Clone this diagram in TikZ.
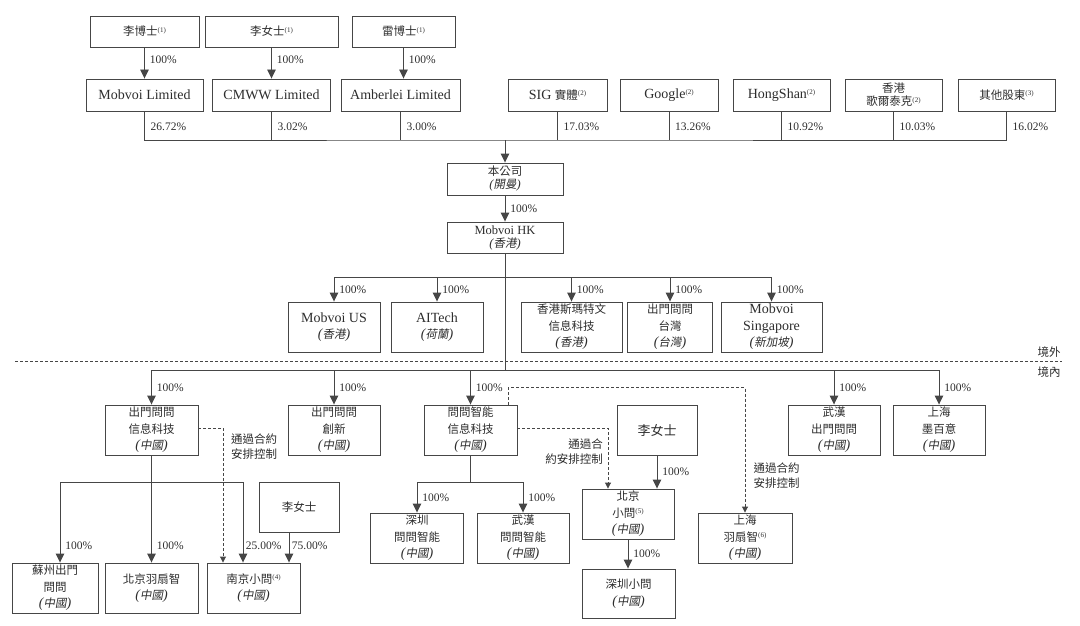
\documentclass[tikz,border=0pt]{standalone}
\usepackage{fontspec}
\setmainfont{Liberation Serif}
\newfontfamily\cjk{Noto Sans CJK TC}
\newfontfamily\cjkit[FakeSlant=0.18]{Noto Sans CJK TC}
\usetikzlibrary{arrows.meta, calc, positioning}
\definecolor{inkgray}{RGB}{45,45,45}
\definecolor{linegray}{RGB}{70,70,70}
\newcommand{\zh}[1]{{\cjk\fontsize{11.5}{16.5}\selectfont #1}}
\newcommand{\inloc}[1]{{\itshape(}{\cjkit\fontsize{11.5}{16.5}\selectfont #1}{\itshape)}}
\newcommand{\fnote}[1]{\raisebox{0.55ex}{\fontsize{7}{7}\selectfont(#1)}}

\begin{document}
\begin{tikzpicture}[x=1pt, y=-1pt,
    box/.style 2 args={draw=linegray, line width=0.9pt, text=inkgray, align=center, inner sep=1pt,
        minimum width=#1pt, minimum height=#2pt, font=\fontsize{14}{16.5}\selectfont},
    tight/.style={font=\fontsize{12.5}{13}\selectfont},
    pct/.style={text=inkgray, font=\fontsize{11.5}{13}\selectfont, inner sep=2pt},
    ctrlnote/.style={text=inkgray, align=left, inner sep=1pt, font=\fontsize{11.5}{15}\selectfont},
    wire/.style={draw=linegray, line width=0.9pt},
    arr/.style={wire, -{Triangle[width=8.5pt,length=9pt]}},
    ctrl/.style={wire, dash pattern=on 3pt off 2pt, -{Triangle[width=6pt,length=6pt]}}]
    \useasboundingbox (0,0) rectangle (1080,626);

    % shareholders
    \node[box={109}{31}] (drli) at (144.5,31.5) {\zh{李博士}\fnote{1}};
    \node[box={133}{31}] (msli) at (271.5,31.5) {\zh{李女士}\fnote{1}};
    \node[box={103}{31}] (drlei) at (403.5,31.5) {\zh{雷博士}\fnote{1}};

    \node[box={117}{32}] (mobltd) at (144.5,95) {Mobvoi Limited};
    \node[box={118}{32}] (cmww) at (271.5,95) {CMWW Limited};
    \node[box={119}{32}] (amber) at (400.5,95) {Amberlei Limited};
    \node[box={99}{32}] (sig) at (557.5,95) {SIG \zh{實體}\fnote{2}};
    \node[box={98}{32}] (google) at (669,95) {Google\fnote{2}};
    \node[box={97}{32}] (hongshan) at (781.5,95) {HongShan\fnote{2}};
    \node[box={97}{32}, tight] (goertek) at (893.5,95) {\zh{香港}\\\zh{歌爾泰克}\fnote{2}};
    \node[box={97}{32}] (others) at (1006.5,95) {\zh{其他股東}\fnote{3}};

    \foreach \a/\b in {drli/mobltd, msli/cmww, drlei/amber}
        \draw[arr] (\a.south) -- (\a.south |- \b.north) node[pct, pos=0.4, right, xshift=3pt] (q-\a) {100\%};

    % shareholding bus
    \coordinate (topbus) at (505,140);
    \draw[wire] (mobltd.south) |- (topbus) -| (others.south);
    \foreach \n in {cmww, amber, sig, google, hongshan, goertek}
        \draw[wire] (\n.south) -- (\n.south |- topbus);
    \foreach \n/\v in {mobltd/26.72, cmww/3.02, amber/3.00, sig/17.03, google/13.26, hongshan/10.92, goertek/10.03, others/16.02}
        \node[pct, anchor=west, xshift=4pt] (p-\n) at ($(\n.south)!0.55!(\n.south |- topbus)$) {\v\%};

    % company and HK
    \node[box={116}{32}, tight] (company) at (505,179) {\zh{本公司}\\\inloc{開曼}};
    \node[box={116}{31}, tight] (mobhk) at (505,237.5) {Mobvoi HK\\\inloc{香港}};
    \draw[arr] (topbus) -- (company.north);
    \draw[arr] (company.south) -- (mobhk.north) node[pct, midway, right, xshift=3pt] (p-hk) {100\%};

    % offshore subsidiaries
    \node[box={92}{50}] (mobus) at (334,327) {Mobvoi US\\\inloc{香港}};
    \node[box={92}{50}] (aitech) at (437,327) {AITech\\\inloc{荷蘭}};
    \node[box={101}{50}] (smart) at (571.5,327) {\zh{香港斯瑪特文}\\\zh{信息科技}\\\inloc{香港}};
    \node[box={85}{50}] (taiwan) at (670,327) {\zh{出門問問}\\\zh{台灣}\\\inloc{台灣}};
    \node[box={101}{50}] (mobsg) at (771.5,327) {Mobvoi\\Singapore\\\inloc{新加坡}};

    \coordinate (hkbus) at (505,277);
    \draw[wire] (mobus.north |- hkbus) -- (mobsg.north |- hkbus);
    \foreach \n in {mobus, aitech, smart, taiwan, mobsg}
        \draw[arr] (\n.north |- hkbus) -- (\n.north) node[pct, midway, right, xshift=3pt] (p-\n) {100\%};

    \coordinate (cnbus) at (505,370);
    \draw[wire] (mobhk.south) -- (cnbus);

    % border line
    \coordinate (bd-l) at (15,361);
    \coordinate (bd-r) at (1062,361);
    \draw[wire, line width=0.7pt, dash pattern=on 3pt off 2pt] (bd-l) -- (bd-r);
    \node[pct] (offshore) at (1049,352) {\zh{境外}};
    \node[pct] (onshore) at (1049,372) {\zh{境內}};

    % onshore subsidiaries
    \node[box={93}{50}] (xxkj) at (151.5,430) {\zh{出門問問}\\\zh{信息科技}\\\inloc{中國}};
    \node[box={92}{50}] (chx) at (334,430) {\zh{出門問問}\\\zh{創新}\\\inloc{中國}};
    \node[box={93}{50}] (wwzn) at (470.5,430) {\zh{問問智能}\\\zh{信息科技}\\\inloc{中國}};
    \node[box={92}{50}] (whcm) at (834,430) {\zh{武漢}\\\zh{出門問問}\\\inloc{中國}};
    \node[box={92}{50}] (shmby) at (939,430) {\zh{上海}\\\zh{墨百意}\\\inloc{中國}};

    \draw[wire] (xxkj.north |- cnbus) -- (shmby.north |- cnbus);
    \foreach \n in {xxkj, chx, wwzn, whcm, shmby}
        \draw[arr] (\n.north |- cnbus) -- (\n.north) node[pct, midway, right, xshift=3pt] (p-\n) {100\%};

    % under xxkj
    \node[box={86}{50}] (szcm) at (55,588) {\zh{蘇州出門}\\\zh{問問}\\\inloc{中國}};
    \node[box={93}{50}] (bjyz) at (151.5,588) {\zh{北京羽扇智}\\\inloc{中國}};
    \node[box={93}{50}] (njxw) at (253.5,588) {\zh{南京小問}\fnote{4}\\\inloc{中國}};
    \node[box={80}{50}] (msli2) at (299,507) {\zh{李女士}};

    \coordinate (xbus-l) at (60,482);
    \coordinate (xbus-r) at (243,482);
    \draw[wire] (xbus-l) -- (xbus-r);
    \draw[arr] (xxkj.south) -- (bjyz.north) node[pct, pos=0.84, right, xshift=3pt] (p-bjyz) {100\%};
    \draw[arr] (xbus-l) -- (xbus-l |- szcm.north) node[pct, pos=0.79, right, xshift=3pt] (p-szcm) {100\%};
    \draw[arr] (xbus-r) -- (xbus-r |- njxw.north) node[pct, pos=0.79, right, xshift=0.5pt] (p-njxw) {25.00\%};
    \draw[arr] ([xshift=-10pt]msli2.south) -- ([xshift=-10pt]msli2.south |- njxw.north)
        node[pct, pos=0.45, right, xshift=0.5pt] (p-msli2) {75.00\%};
    \draw[ctrl] ([yshift=2pt]xxkj.east) -| ([xshift=-30.5pt]njxw.north);
    \node[ctrlnote] (c-xxkj) at (254,447) {\zh{通過合約}\\\zh{安排控制}};

    % under wwzn
    \node[box={93}{50}] (szwz) at (417,538) {\zh{深圳}\\\zh{問問智能}\\\inloc{中國}};
    \node[box={92}{50}] (whwz) at (523,538) {\zh{武漢}\\\zh{問問智能}\\\inloc{中國}};
    \coordinate (wbus) at (470.5,482);
    \draw[wire] (wwzn.south) -- (wbus);
    \draw[wire] (szwz.north |- wbus) -- (whwz.north |- wbus);
    \foreach \n in {szwz, whwz}
        \draw[arr] (\n.north |- wbus) -- (\n.north) node[pct, midway, right, xshift=3pt] (p-\n) {100\%};

    \node[box={80}{50}, font=\fontsize{13}{16.5}\selectfont] (msli3) at (657,430) {{\cjk 李女士}};
    \node[box={92}{50}] (bjxw) at (628,514) {\zh{北京}\\\zh{小問}\fnote{5}\\\inloc{中國}};
    \node[box={93}{49}] (szxw) at (628.5,593.5) {\zh{深圳小問}\\\inloc{中國}};
    \node[box={94}{50}] (shyz) at (745,538) {\zh{上海}\\\zh{羽扇智}\fnote{6}\\\inloc{中國}};

    \draw[arr] (msli3.south) -- (msli3.south |- bjxw.north) node[pct, midway, right, xshift=3pt] (p-msli3) {100\%};
    \draw[arr] (bjxw.south) -- (bjxw.south |- szxw.north) node[pct, midway, right, xshift=3pt] (p-bjxw) {100\%};
    \draw[ctrl] ([yshift=2pt]wwzn.east) -| ([xshift=-20pt]bjxw.north);
    \node[ctrlnote, align=right, anchor=east] (c-wwzn) at (604,451.5) {\zh{通過合}\\\zh{約安排控制}};
    \draw[ctrl] ([xshift=37.5pt]wwzn.north) -- ++(0,-17) -| (shyz.north);
    \node[ctrlnote] (c-shyz) at (776.5,476) {\zh{通過合約}\\\zh{安排控制}};
\end{tikzpicture}
\end{document}
